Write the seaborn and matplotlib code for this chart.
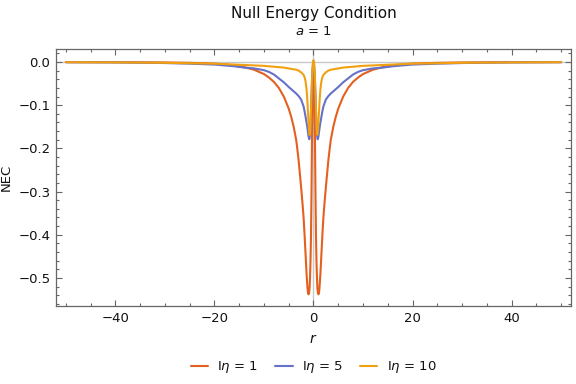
import numpy as np
import pandas as pd
import seaborn as sns
import matplotlib.pyplot as plt
from matplotlib.ticker import MultipleLocator, FuncFormatter

# values for r >= 0 (the curves are symmetric in r)
r_eta1 = [0, 0.1, 0.2, 0.3, 0.4, 0.5, 0.6, 0.7, 0.8, 0.9, 1.0, 1.1, 1.2, 1.4, 1.6, 1.8,
          2.0, 2.2, 2.5, 2.7, 3.0, 3.3, 3.5, 4.0, 4.5, 5.0, 6.0, 7.0, 8.0, 9.0, 10, 12,
          14, 16, 18, 20, 25, 30, 40, 50]
nec_eta1 = [0.0, -0.03, -0.10, -0.18, -0.30, -0.40, -0.46, -0.50, -0.525, -0.535, -0.538,
            -0.535, -0.525, -0.49, -0.445, -0.40, -0.36, -0.33, -0.29, -0.265, -0.228,
            -0.198, -0.18, -0.15, -0.127, -0.108, -0.08, -0.06, -0.046, -0.036, -0.028,
            -0.018, -0.012, -0.008, -0.0055, -0.004, -0.002, -0.0012, -0.0005, -0.0003]

r_eta5 = [0, 0.1, 0.2, 0.3, 0.4, 0.5, 0.6, 0.7, 0.8, 0.85, 0.9, 1.0, 1.2, 1.4, 1.6, 1.8,
          2.0, 2.5, 3.0, 3.5, 4.0, 4.5, 5.0, 6.0, 7.0, 8.0, 9.0, 10, 12, 14, 16, 18, 20,
          25, 30, 40, 50]
nec_eta5 = [0.0, -0.005, -0.02, -0.045, -0.08, -0.115, -0.145, -0.167, -0.177, -0.179,
            -0.178, -0.172, -0.155, -0.14, -0.127, -0.114, -0.103, -0.087, -0.079, -0.073,
            -0.068, -0.063, -0.058, -0.047, -0.038, -0.029, -0.023, -0.019, -0.015, -0.013,
            -0.01, -0.008, -0.006, -0.004, -0.0025, -0.001, -0.0006]

r_eta10 = [0, 0.1, 0.2, 0.3, 0.4, 0.5, 0.6, 0.7, 0.75, 0.8, 0.9, 1.0, 1.1, 1.2, 1.3, 1.4,
           1.6, 1.8, 2.0, 2.5, 3.0, 3.5, 4.0, 5.0, 6.0, 7.0, 8.0, 10, 12, 14, 16, 18, 20,
           25, 30, 40, 50]
nec_eta10 = [0.004, 0.0, -0.015, -0.04, -0.075, -0.11, -0.145, -0.165, -0.169, -0.168,
             -0.158, -0.14, -0.118, -0.097, -0.078, -0.063, -0.045, -0.035, -0.03, -0.024,
             -0.02, -0.018, -0.017, -0.015, -0.013, -0.012, -0.011, -0.009, -0.008, -0.007,
             -0.006, -0.005, -0.004, -0.003, -0.002, -0.001, -0.0005]

labels = ["I$\\eta$ = 1", "I$\\eta$ = 5", "I$\\eta$ = 10"]
palette = dict(zip(labels, ["#E4601E", "#6572C8", "#F0A010"]))


def mirrored(r, v, label):
    r = np.asarray(r, float)
    v = np.asarray(v, float)
    full_r = np.concatenate([-r[::-1], r[1:]])
    full_v = np.concatenate([v[::-1], v[1:]])
    return pd.DataFrame({"r": full_r, "nec": full_v, "lbl": label})


df = pd.concat([mirrored(r_eta1, nec_eta1, labels[0]),
                mirrored(r_eta5, nec_eta5, labels[1]),
                mirrored(r_eta10, nec_eta10, labels[2])], ignore_index=True)

sns.set_theme(style="ticks")
plt.rcParams['font.family'] = ['DejaVu Sans']
plt.rcParams['text.color'] = '#111111'

fig = plt.figure(figsize=(5.76, 3.84), dpi=100)
ax = fig.add_axes([0.0972, 0.2031, 0.8941, 0.6693])

ax.axhline(0, color="#c8c8c8", lw=1.0, zorder=0)
ax.axvline(0, color="#c8c8c8", lw=1.0, zorder=0)

sns.lineplot(data=df, x="r", y="nec", hue="lbl", palette=palette, estimator=None,
             sort=True, lw=1.5, ax=ax, legend=False)

ax.set_xlim(-52, 52)
ax.set_ylim(-0.565, 0.03)
frame = "#666666"
for s in ax.spines.values():
    s.set_color(frame)
    s.set_linewidth(0.9)

ax.xaxis.set_minor_locator(MultipleLocator(5))
ax.yaxis.set_minor_locator(MultipleLocator(0.02))
ax.set_yticks([0.0, -0.1, -0.2, -0.3, -0.4, -0.5])
ax.set_xticks([-40, -20, 0, 20, 40])
ax.yaxis.set_major_formatter(FuncFormatter(lambda v, p: f"{v:.1f}".replace("-", "\u2212")))
ax.xaxis.set_major_formatter(FuncFormatter(lambda v, p: f"{v:.0f}".replace("-", "\u2212")))
ax.tick_params(which="both", direction="in", top=True, right=True, color=frame,
               labelsize=9.5, labelcolor="#111111", width=0.8)
ax.tick_params(which="major", length=4.5, pad=4)
ax.tick_params(which="minor", length=2.5)

ax.set_xlabel("$r$", fontsize=10, labelpad=5, color="#111111")
ax.set_ylabel("NEC", fontsize=9.5, labelpad=4, color="#111111")

fig.text(0.5443, 0.965, "Null Energy Condition", ha="center", va="center", fontsize=11)
fig.text(0.5443, 0.918, "$a$ = 1", ha="center", va="center", fontsize=9.5)

handles = [plt.Line2D([], [], color=palette[l], lw=1.5) for l in labels]
fig.legend(handles, labels, loc="center", bbox_to_anchor=(0.5443, 0.043), ncol=3,
           frameon=False, fontsize=9.5, handlelength=1.3, columnspacing=1.3,
           handletextpad=0.7)

fig.savefig("out.png", dpi=100)
